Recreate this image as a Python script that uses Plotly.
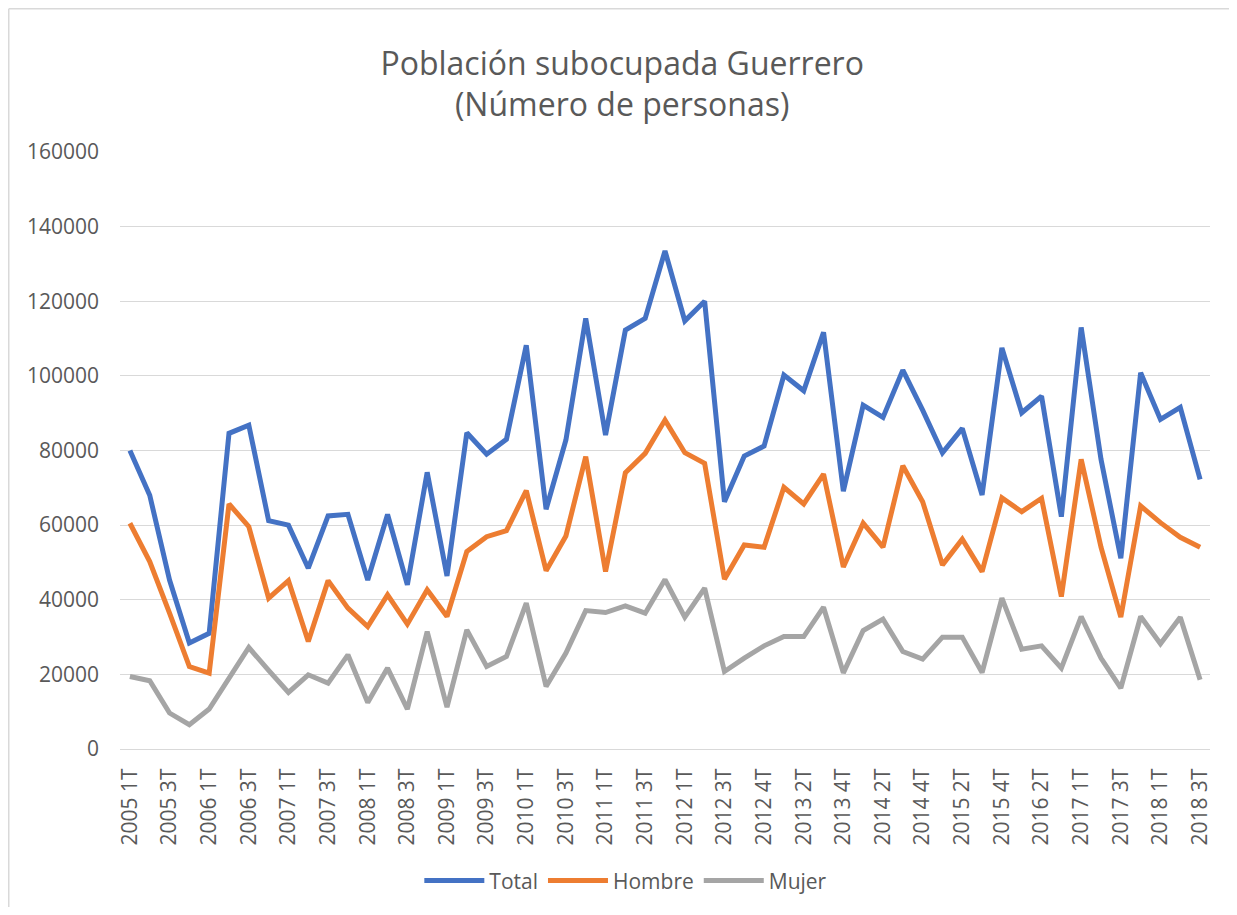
import plotly.graph_objects as go

# ---- data ----
tick_labels = ["2005 1T", "2005 3T", "2006 1T", "2006 3T", "2007 1T", "2007 3T",
               "2008 1T", "2008 3T", "2009 1T", "2009 3T", "2010 1T", "2010 3T",
               "2011 1T", "2011 3T", "2012 1T", "2012 3T", "2012 4T", "2013 2T",
               "2013 4T", "2014 2T", "2014 4T", "2015 2T", "2015 4T", "2016 2T",
               "2017 1T", "2017 3T", "2018 1T", "2018 3T"]

total = [80000, 68000, 45300, 28400, 31000, 84600, 86800, 61200, 60000, 48450,
         62450, 62900, 45300, 62850, 44000, 74150, 46390, 84760, 79000, 83000,
         108200, 64250, 82800, 115400, 84140, 112250, 115400, 133500, 114740, 120000,
         66280, 78520, 81190, 100200, 96000, 111700, 69100, 92170, 88880, 101540,
         90830, 79400, 85930, 68080, 107500, 90110, 94580, 62270, 112970, 77630,
         51130, 100820, 88340, 91550, 72280]

hombre = [60500, 50220, 36400, 22110, 20350, 65670, 59590, 40420, 45130, 28800,
          45130, 37750, 32820, 41300, 33460, 42650, 35500, 52900, 56910, 58520,
          69230, 47800, 57100, 78330, 47540, 74050, 79240, 88150, 79400, 76560,
          45510, 54690, 54080, 70140, 65670, 73700, 48800, 60500, 54080, 75920,
          66280, 49340, 56220, 47540, 67300, 63600, 67190, 40850, 77630, 54080,
          35340, 65130, 60660, 56750, 54080]

mujer = [19430, 18280, 9640, 6500, 10710, 19000, 27200, 21040, 15150, 19890,
         17670, 25240, 12470, 21680, 10710, 31480, 11240, 31940, 22110, 24790,
         39080, 16760, 25700, 37100, 36570, 38360, 36410, 45400, 35340, 43100,
         20770, 24360, 27650, 30140, 30140, 38010, 20400, 31750, 34800, 26130,
         24090, 29980, 29980, 20500, 40420, 26770, 27650, 21680, 35500, 24360,
         16330, 35500, 28190, 35340, 18550]

series_names = ["Total", "Hombre", "Mujer"]
series_colors = ["#4472C4", "#ED7D31", "#A5A5A5"]

x = list(range(len(total)))
tick_positions = x[::2]

TEXT = "#595959"
GRID = "#D9D9D9"
FONT = "Open Sans"

fig = go.Figure()
for name, vals, col in zip(series_names, [total, hombre, mujer], series_colors):
    fig.add_trace(go.Scatter(x=x, y=vals, name=name, mode="lines",
                             line=dict(color=col, width=5)))

W, H = 1221, 899
ml, mr, mt, mb = 112, 19, 144, 158

fig.update_layout(
    width=W, height=H,
    margin=dict(l=ml, r=mr, t=mt, b=mb, autoexpand=False),
    paper_bgcolor="white", plot_bgcolor="white",
    font=dict(family=FONT, color=TEXT, size=21),
    title=dict(text="Población subocupada Guerrero<br>(Número de personas)",
               font=dict(family=FONT, size=32, color=TEXT),
               x=0.503, xref="container", xanchor="center",
               y=0.926, yref="container", yanchor="middle"),
    legend=dict(orientation="h", xref="container", yref="container",
                x=0.506, xanchor="center", y=0.029, yanchor="middle",
                font=dict(family=FONT, size=21, color=TEXT),
                itemwidth=60, traceorder="normal"),
    xaxis=dict(range=[-0.5, len(total) - 0.5], tickmode="array",
               tickvals=tick_positions, ticktext=tick_labels, tickangle=-90,
               showgrid=False, zeroline=False, showline=True, linecolor=GRID,
               linewidth=1.3, ticks="", ticklabelstandoff=10,
               tickfont=dict(family=FONT, size=21, color=TEXT)),
    yaxis=dict(range=[0, 160000], tickmode="linear", tick0=0, dtick=20000,
               tickformat="d", showgrid=True, gridcolor=GRID, gridwidth=1.3,
               zeroline=False, showline=False, ticks="", ticklabelstandoff=20,
               tickfont=dict(family=FONT, size=21, color=TEXT)),
)

# chart-area border (visible on left and top in the reference)
pw = W - ml - mr
ph = H - mt - mb
x_left = (0.75 - ml) / pw
y_top = 1 + (mt - 0.75) / ph
fig.add_shape(type="line", xref="paper", yref="paper",
              x0=x_left, x1=x_left, y0=-mb / ph, y1=y_top,
              line=dict(color=GRID, width=1.5))
fig.add_shape(type="line", xref="paper", yref="paper",
              x0=x_left, x1=1 + mr / pw, y0=y_top, y1=y_top,
              line=dict(color=GRID, width=1.5))

fig.write_html("out.html")
